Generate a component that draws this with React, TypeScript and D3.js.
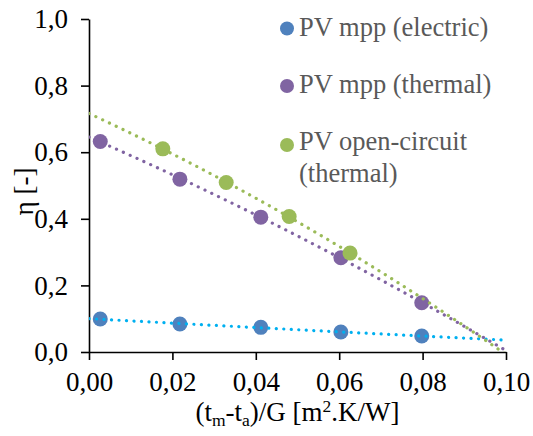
import React, { useEffect, useRef } from 'react';
import * as d3 from 'd3';

// data
const mppX = [0.0027, 0.0218, 0.0412, 0.0604, 0.0798];
const electricY = [0.099, 0.084, 0.074, 0.06, 0.048];
const thermalY = [0.632, 0.519, 0.405, 0.283, 0.148];
const openX = [0.0177, 0.0329, 0.048, 0.0626];
const openY = [0.61, 0.509, 0.407, 0.297];
const seriesNames = ['PV mpp (electric)', 'PV mpp (thermal)', 'PV open-circuit', '(thermal)'];
const xTicks = [0, 0.02, 0.04, 0.06, 0.08, 0.1];
const yTicks = [0, 0.2, 0.4, 0.6, 0.8, 1.0];

const markerColors = ['#4F81BD', '#8064A2', '#9BBB59'];
const trendColors = ['#00B0F0', '#8064A2', '#9BBB59'];

// 2nd order polynomial trendline (least squares)
const fit2 = (xs: number[], ys: number[]) => {
  const s = [0, 0, 0, 0, 0];
  const t = [0, 0, 0];
  xs.forEach((x, i) => {
    for (let k = 0; k < 5; k++) s[k] += Math.pow(x, k);
    for (let k = 0; k < 3; k++) t[k] += ys[i] * Math.pow(x, k);
  });
  const m = [
    [s[0], s[1], s[2]],
    [s[1], s[2], s[3]],
    [s[2], s[3], s[4]],
  ];
  const det = (a: number[][]) =>
    a[0][0] * (a[1][1] * a[2][2] - a[1][2] * a[2][1]) -
    a[0][1] * (a[1][0] * a[2][2] - a[1][2] * a[2][0]) +
    a[0][2] * (a[1][0] * a[2][1] - a[1][1] * a[2][0]);
  const d = det(m);
  const coef = [0, 1, 2].map((c) => det(m.map((row, r) => row.map((v, j) => (j === c ? t[r] : v)))) / d);
  return (x: number) => coef[0] + coef[1] * x + coef[2] * x * x;
};

const App = () => {
  const ref = useRef<SVGSVGElement>(null);

  useEffect(() => {
    const width = 533;
    const height = 436;
    const left = 89;
    const right = 506;
    const top = 19;
    const bottom = 352;
    const font = '"Liberation Serif", "Times New Roman", serif';

    const svg = d3.select(ref.current);
    svg.selectAll('*').remove();
    svg.attr('width', width).attr('height', height);

    const x = d3.scaleLinear().domain([0, 0.1]).range([left, right]);
    const y = d3.scaleLinear().domain([0, 1]).range([bottom, top]);

    const locale = d3.formatLocale({ decimal: ',', thousands: '.', grouping: [3], currency: ['', ''] });

    svg.append('defs').append('clipPath').attr('id', 'plot')
      .append('rect').attr('x', left).attr('y', top).attr('width', right - left).attr('height', bottom - top);

    // axes
    const yAxis = svg.append('g').attr('transform', `translate(${left},0)`)
      .call(d3.axisLeft(y).tickValues(yTicks).tickFormat(locale.format('.1f')).tickSize(8).tickSizeOuter(0).tickPadding(13));
    const xAxis = svg.append('g').attr('transform', `translate(0,${bottom})`)
      .call(d3.axisBottom(x).tickValues(xTicks).tickFormat(locale.format('.2f')).tickSize(8).tickSizeOuter(0).tickPadding(12));
    [yAxis, xAxis].forEach((g) => {
      g.attr('font-family', font);
      g.selectAll('path, line').attr('stroke', '#000').attr('stroke-width', 1.6);
      g.selectAll('text').style('font-family', font).attr('font-size', 27).attr('fill', '#000');
    });

    // markers
    const series = [
      { xs: mppX, ys: electricY },
      { xs: mppX, ys: thermalY },
      { xs: openX, ys: openY },
    ];
    series.forEach((s, i) => {
      svg.append('g').selectAll('circle').data(s.xs).enter().append('circle')
        .attr('cx', (d) => x(d))
        .attr('cy', (d, j) => y(s.ys[j]))
        .attr('r', 7.5)
        .attr('fill', markerColors[i]);
    });

    // trendlines
    const xs = d3.range(0, 0.10001, 0.001);
    series.forEach((s, i) => {
      const f = fit2(s.xs, s.ys);
      const line = d3.line<number>().x((d) => x(d)).y((d) => y(f(d)));
      svg.append('path')
        .attr('clip-path', 'url(#plot)')
        .attr('d', line(xs))
        .attr('fill', 'none')
        .attr('stroke', trendColors[i])
        .attr('stroke-width', 3.2)
        .attr('stroke-linecap', 'round')
        .attr('stroke-dasharray', '0.1 7.4');
    });

    // legend
    const legend = svg.append('g');
    const legendY = [28.5, 86, 145];
    legendY.forEach((ly, i) => {
      legend.append('circle').attr('cx', 287).attr('cy', ly).attr('r', 7).attr('fill', markerColors[i]);
    });
    const legendText = [
      { t: seriesNames[0], y: 35.5 },
      { t: seriesNames[1], y: 93 },
      { t: seriesNames[2], y: 150 },
      { t: seriesNames[3], y: 182 },
    ];
    legend.selectAll('text').data(legendText).enter().append('text')
      .attr('x', 299)
      .attr('y', (d) => d.y)
      .style('font-family', font)
      .attr('font-size', 26.5)
      .attr('fill', '#595959')
      .text((d) => d.t);

    // axis titles
    const xt = svg.append('text')
      .attr('x', (left + right) / 2)
      .attr('y', 421)
      .attr('text-anchor', 'middle')
      .style('font-family', font)
      .attr('font-size', 27)
      .attr('fill', '#000');
    xt.append('tspan').text('(t');
    xt.append('tspan').attr('font-size', 17.5).attr('dy', 5).text('m');
    xt.append('tspan').attr('dy', -5).text('-t');
    xt.append('tspan').attr('font-size', 17.5).attr('dy', 5).text('a');
    xt.append('tspan').attr('dy', -5).text(')/G [m');
    xt.append('tspan').attr('font-size', 17.5).attr('dy', -9).text('2');
    xt.append('tspan').attr('dy', 9).text('.K/W]');

    svg.append('text')
      .attr('transform', `translate(33,${(top + bottom) / 2 + 6}) rotate(-90)`)
      .attr('text-anchor', 'middle')
      .style('font-family', font)
      .attr('font-size', 27)
      .attr('fill', '#000')
      .text('η [-]');
  }, []);

  return <svg ref={ref} style={{ position: 'absolute', left: 0, top: 0 }} />;
};

export default App;
